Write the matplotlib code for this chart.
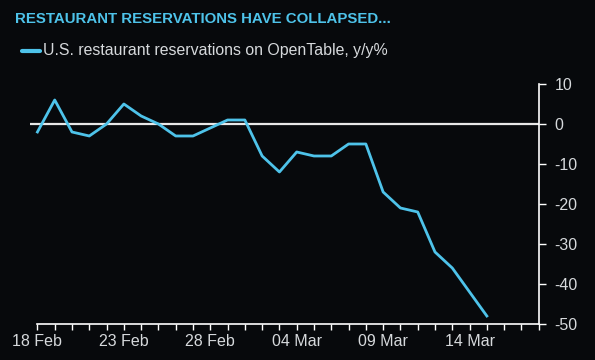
import matplotlib.pyplot as plt
import matplotlib.dates as mdates
import pandas as pd

plt.rcParams['font.family'] = ['Liberation Sans', 'DejaVu Sans']
plt.rcParams['axes.unicode_minus'] = False

# daily y/y % change, 18 Feb 2020 to 15 Mar 2020
dates = pd.date_range('2020-02-18', '2020-03-15', freq='D')
values = [-2, 6, -2, -3, 0, 5, 2, 0, -3, -3, -1, 1, 1, -8, -12,
          -7, -8, -8, -5, -5, -17, -21, -22, -32, -36, -42, -48]
yticks = [10, 0, -10, -20, -30, -40, -50]
xlabels = ['18 Feb', '23 Feb', '28 Feb', '04 Mar', '09 Mar', '14 Mar']

bg = '#07090c'
cyan = '#4ec3ea'
txt = '#d6d9dc'

fig = plt.figure(figsize=(5.95, 3.6), dpi=100, facecolor=bg)
ax = fig.add_axes([0.0496, 0.1, 0.857, 0.6667], facecolor=bg)

ax.axhline(0, color='#e8e8e8', lw=1.6, zorder=1)
ax.plot(dates, values, color=cyan, lw=2.0, zorder=2)

start = pd.Timestamp('2020-02-18')
end = pd.Timestamp('2020-03-18')
ax.set_xlim(start - pd.Timedelta(hours=11), end + pd.Timedelta(hours=1))
ax.set_ylim(-50, 10)

for s in ['top', 'left']:
    ax.spines[s].set_visible(False)
ax.spines['bottom'].set_color('white')
ax.spines['right'].set_color('white')
ax.spines['bottom'].set_linewidth(1.2)
ax.spines['right'].set_linewidth(1.2)
ax.spines['bottom'].set_bounds(mdates.date2num(start), mdates.date2num(end))

ticks = pd.date_range(start, end, freq='D')
ax.set_xticks(ticks)
ax.set_xticklabels([t.strftime('%d %b') if t.strftime('%d %b') in xlabels else '' for t in ticks])
ax.tick_params(axis='x', colors='white', length=4, width=1, labelcolor=txt,
               labelsize=11.5, pad=3)

ax.yaxis.tick_right()
ax.set_yticks(yticks)
ax.set_yticklabels([str(v) for v in yticks])
ax.tick_params(axis='y', colors='white', length=5, width=1, labelcolor=txt,
               labelsize=11.5, pad=6)
for lab in ax.get_yticklabels():
    lab.set_horizontalalignment('left')

fig.text(15 / 595, 1 - 19 / 360, 'RESTAURANT RESERVATIONS HAVE COLLAPSED...',
         color=cyan, fontsize=10.8, fontweight='bold', va='center', ha='left')
fig.add_artist(plt.Line2D([22 / 595, 40 / 595], [1 - 51 / 360, 1 - 51 / 360],
                          color=cyan, lw=3, solid_capstyle='round'))
fig.text(43 / 595, 1 - 50 / 360, 'U.S. restaurant reservations on OpenTable, y/y%',
         color=txt, fontsize=11.4, va='center', ha='left')

fig.savefig('out.png', dpi=100, facecolor=bg)
